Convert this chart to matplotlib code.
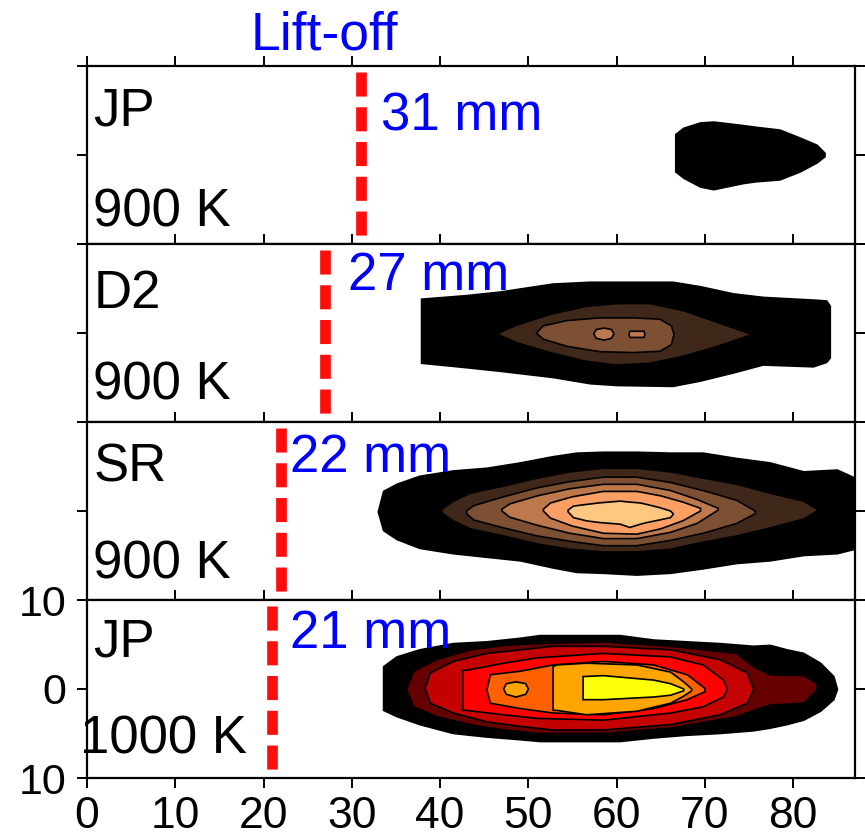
import numpy as np
import matplotlib.pyplot as plt
from matplotlib import cm

plt.rcParams['font.family'] = ['Liberation Sans', 'DejaVu Sans']

# fuel / ambient temperature and lift-off length of each panel (top to bottom)
fuels = ['JP', 'D2', 'SR', 'JP']
temps = ['900 K', '900 K', '900 K', '1000 K']
liftoff = [31, 27, 22, 21]

xticks = [0, 10, 20, 30, 40, 50, 60, 70, 80]
yticks = [-10, 0, 10]
ytick_labels = ['10', '0', '10']

# soot contour bands: x positions (mm) and upper/lower edge (mm), outer level first
jp900_lev = [0.0]
jp900_x = [[66.7, 67.6, 69.5, 71.0, 74.4, 75.9, 78.5, 80.8, 82.7, 83.6]]
jp900_hi = [[2.3, 3.0, 3.6, 3.7, 3.3, 3.1, 2.8, 1.9, 1.1, 0.2]]
jp900_lo = [[-1.9, -2.6, -3.6, -3.9, -3.2, -3.0, -2.8, -1.9, -0.9, -0.2]]

d2_lev = [0.0, 0.2, 0.4, 0.6, 0.6]
d2_x = [[37.9, 43.0, 46.8, 52.8, 57.0, 60.0, 66.4, 69.5, 73.2, 76.6, 82.3, 83.8, 84.2],
        [46.4, 48.7, 52.5, 56.6, 60.0, 63.8, 67.6, 71.4, 75.3],
        [50.9, 51.7, 54.4, 58.1, 61.9, 64.9, 66.2, 66.5],
        [57.4, 57.7, 58.6, 59.4, 59.7],
        [61.4, 61.5, 63.1, 63.2]]
d2_hi = [[3.8, 4.2, 4.6, 5.5, 5.7, 5.7, 5.7, 5.2, 4.4, 4.0, 3.7, 3.6, 3.0],
         [-0.1, 0.9, 2.1, 3.0, 3.3, 3.3, 2.5, 1.2, -0.15],
         [0.0, 0.8, 1.4, 1.7, 1.7, 1.55, 0.8, -0.15],
         [-0.1, 0.4, 0.55, 0.4, -0.1],
         [-0.15, 0.2, 0.2, -0.15]]
d2_lo = [[-3.4, -3.9, -4.3, -5.0, -5.7, -5.9, -6.0, -5.4, -4.5, -3.6, -3.8, -3.3, -2.8],
         [-0.1, -1.1, -2.2, -3.2, -3.6, -3.4, -2.6, -1.5, -0.2],
         [0.0, -0.7, -1.5, -2.1, -2.2, -2.05, -1.3, -0.15],
         [-0.1, -0.6, -0.8, -0.6, -0.1],
         [-0.15, -0.5, -0.5, -0.15]]

sr_lev = [0.0, 0.2, 0.4, 0.6, 0.8, 1.0]
sr_x = [[33.0, 33.6, 35.1, 37.7, 41.5, 45.3, 49.1, 52.8, 55.5, 58.5, 62.3, 66.1, 69.8, 73.6, 77.4, 81.2, 85.0, 87.0],
        [40.2, 41.5, 43.4, 47.2, 51.0, 54.7, 58.5, 62.3, 66.1, 69.8, 73.6, 77.4, 81.2, 82.7],
        [43.0, 43.8, 47.2, 51.0, 54.7, 58.5, 62.3, 66.1, 69.8, 73.6, 75.7],
        [47.0, 47.9, 51.0, 54.7, 58.5, 62.3, 66.1, 69.1, 71.5],
        [51.7, 52.5, 55.0, 58.5, 62.3, 65.0, 67.5, 69.5],
        [54.5, 55.1, 56.6, 58.1, 60.4, 61.5, 62.7, 63.4, 64.9, 66.1, 66.4]]
sr_hi = [[-0.1, 2.2, 3.0, 3.9, 4.5, 4.8, 5.4, 6.1, 6.5, 6.6, 6.6, 6.5, 6.5, 5.9, 5.4, 4.4, 4.6, 3.7],
         [0.2, 1.1, 2.0, 2.8, 3.7, 4.4, 4.8, 4.8, 4.4, 3.7, 3.0, 2.0, 1.1, 0.2],
         [0.0, 0.6, 1.6, 2.6, 3.3, 3.8, 3.8, 3.2, 2.3, 1.2, 0.0],
         [0.2, 0.8, 1.7, 2.5, 3.0, 3.0, 2.3, 1.3, 0.3],
         [0.2, 0.9, 1.6, 2.2, 2.2, 1.7, 1.0, 0.3],
         [0.1, 0.55, 0.74, 0.92, 1.11, 1.0, 0.9, 0.74, 0.37, 0.0, -0.3]]
sr_lo = [[-0.1, -2.2, -3.2, -4.2, -4.8, -5.2, -5.6, -6.4, -6.9, -7.0, -7.2, -7.0, -6.5, -5.9, -5.6, -5.0, -4.8, -4.3],
         [-0.2, -1.1, -2.0, -2.8, -3.7, -4.3, -4.6, -4.6, -4.3, -3.5, -2.8, -1.9, -0.9, 0.0],
         [-0.3, -1.0, -1.9, -2.8, -3.4, -3.9, -3.9, -3.3, -2.5, -1.4, -0.3],
         [0.0, -0.7, -1.6, -2.5, -3.1, -3.1, -2.4, -1.4, 0.1],
         [0.0, -0.8, -1.7, -2.5, -2.6, -2.0, -1.1, 0.0],
         [-0.1, -0.74, -1.11, -1.30, -1.48, -1.85, -1.48, -1.3, -1.0, -0.74, -0.4]]

jp1000_lev = [0.0, 0.14, 0.28, 0.37, 0.51, 0.61, 0.61, 0.75]
jp1000_x = [[33.6, 35.1, 37.7, 41.5, 45.3, 49.1, 51.3, 56.6, 60.4, 64.2, 67.9, 71.7, 75.5, 77.4, 79.3, 81.2, 83.1, 84.6, 85.0],
            [36.2, 37.0, 39.6, 43.4, 47.2, 51.0, 58.5, 66.1, 73.6, 75.5, 77.4, 81.2, 82.7],
            [38.3, 38.9, 41.5, 45.3, 49.1, 52.8, 58.5, 66.1, 71.7, 74.8, 75.5],
            [42.6, 43.0, 47.2, 51.0, 58.5, 66.1, 69.8, 72.1, 72.5],
            [45.3, 45.7, 49.1, 52.8, 58.5, 64.2, 68.0, 70.0],
            [52.8, 53.2, 56.6, 62.3, 66.1, 67.6, 68.5],
            [47.2, 47.5, 48.6, 49.7, 50.0],
            [56.2, 56.3, 58.5, 64.2, 66.1, 67.6]]
jp1000_hi = [[2.5, 3.6, 4.4, 5.1, 5.3, 5.7, 6.0, 6.0, 6.0, 5.5, 5.3, 5.1, 4.8, 4.9, 4.4, 4.0, 2.9, 1.4, 0.0],
             [0.0, 2.0, 3.3, 4.4, 4.9, 5.1, 5.3, 4.8, 4.0, 2.5, 1.6, 1.5, 0.6],
             [0.07, 1.8, 3.1, 4.0, 4.4, 4.8, 4.8, 4.4, 3.3, 1.8, 0.07],
             [2.1, 2.1, 2.9, 3.5, 4.0, 3.6, 2.7, 1.0, 0.07],
             [-0.1, 1.6, 2.0, 2.7, 3.1, 2.7, 1.6, 0.07],
             [2.5, 2.7, 2.9, 2.7, 1.9, 0.8, 0.0],
             [0.0, 0.6, 0.8, 0.6, 0.0],
             [1.4, 1.4, 1.5, 1.0, 0.6, 0.0]]
jp1000_lo = [[-2.4, -3.1, -4.0, -5.0, -5.4, -5.7, -5.9, -5.9, -5.9, -5.5, -5.2, -5.0, -4.7, -4.4, -4.0, -3.5, -2.5, -1.2, -0.1],
             [-0.1, -2.0, -3.1, -4.0, -4.6, -5.0, -5.0, -4.4, -3.1, -2.4, -1.8, -1.6, -0.1],
             [0.07, -1.6, -2.7, -3.7, -4.2, -4.6, -4.6, -4.0, -2.9, -1.6, -0.1],
             [-2.4, -2.4, -2.9, -3.3, -3.5, -2.7, -2.0, -0.9, -0.1],
             [-0.1, -1.6, -2.2, -2.7, -2.9, -2.2, -1.2, -0.3],
             [-2.4, -2.4, -2.9, -2.5, -1.6, -0.8, -0.2],
             [0.0, -0.6, -0.9, -0.6, 0.0],
             [-1.2, -1.2, -1.2, -0.9, -0.7, -0.2]]

panels = [
    (jp900_lev, jp900_x, jp900_hi, jp900_lo, cm.copper),
    (d2_lev, d2_x, d2_hi, d2_lo, cm.copper),
    (sr_lev, sr_x, sr_hi, sr_lo, cm.copper),
    (jp1000_lev, jp1000_x, jp1000_hi, jp1000_lo, cm.hot),
]

# text placement (x in mm, y in mm) per panel
name_y = [3.3, 2.8, 3.3, 3.6]
temp_y = [-8.0, -7.5, -7.6, -7.2]
temp_x = [0.7, 0.7, 0.7, -0.8]
mm_dx = [2.3, 2.6, 1.0, 2.0]
mm_y = [2.8, 4.8, 4.4, 4.6]

fig = plt.figure(figsize=(8.65, 8.39), dpi=100)
left, width = 87 / 865, 768 / 865
top, h = 1 - 66 / 839, 178 / 839

axes = []
for i, (lev, xs, his, los, cmap) in enumerate(panels):
    ax = fig.add_axes([left, top - (i + 1) * h, width, h])
    axes.append(ax)
    for v, x, hi, lo in zip(lev, xs, his, los):
        px = np.r_[x, x[::-1]]
        py = np.r_[hi, lo[::-1]]
        col = 'black' if v == 0 else cmap(v)
        ax.fill(px, py, facecolor=col, edgecolor='black', lw=1.2, zorder=2)

    # lift-off position
    tf = ax.get_xaxis_transform()
    ax.plot([liftoff[i], liftoff[i]], [0.965, 0.045], transform=tf,
            color='#ff0d0d', lw=7.7, dashes=(2.25, 1.0), solid_capstyle='butt',
            zorder=3)

    ax.text(0.7, name_y[i], fuels[i], fontsize=38, va='baseline', zorder=5)
    ax.text(temp_x[i], temp_y[i], temps[i], fontsize=38, va='baseline',
            zorder=5, clip_on=False)
    ax.text(liftoff[i] + mm_dx[i], mm_y[i], f'{liftoff[i]} mm', fontsize=38,
            color='#0000ff', va='baseline', zorder=5)

    ax.set_xlim(0, 87)
    ax.set_ylim(-10, 10)
    ax.set_xticks(xticks)
    ax.set_yticks(yticks)
    ax.tick_params(direction='out', length=7, width=1.4, top=True, right=True,
                   bottom=(i == 3), labelbottom=(i == 3), labelleft=(i == 3),
                   labelsize=32, pad=6)
    ax.tick_params(axis='y', labelsize=31, pad=8)
    if i == 3:
        ax.set_yticklabels(ytick_labels)
    for s in ax.spines.values():
        s.set_linewidth(1.6)

fig.text(251 / 865, 1 - 50 / 839, 'Lift-off', fontsize=38.5, color='#0000ff',
         va='baseline')

fig.savefig('out.png', dpi=100)
